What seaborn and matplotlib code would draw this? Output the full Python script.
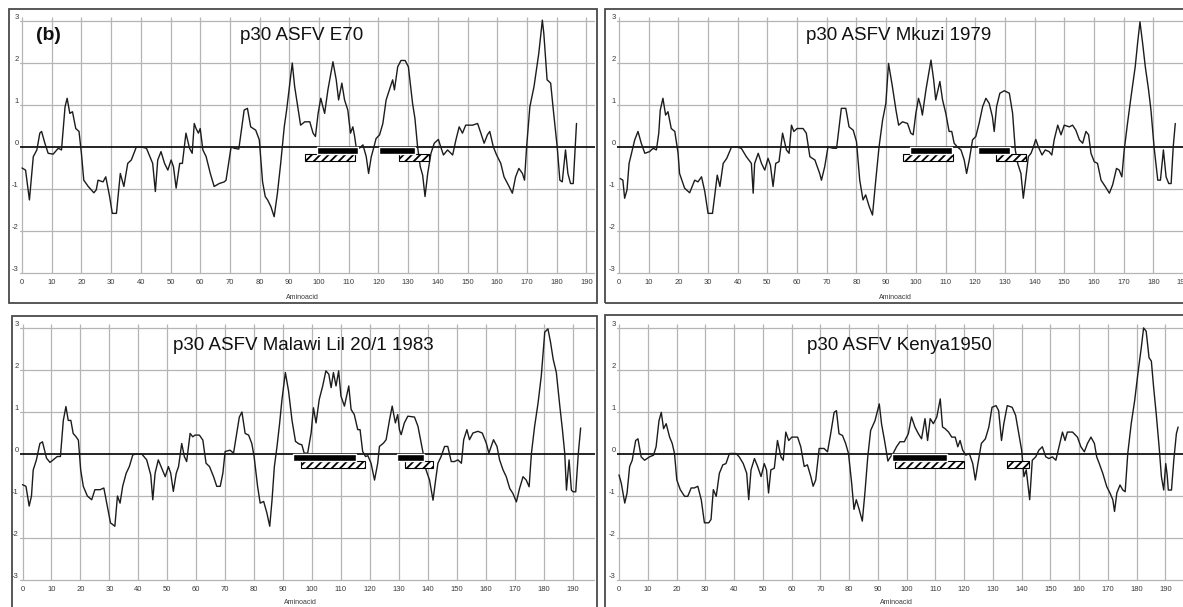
import matplotlib
matplotlib.use("Agg")
import matplotlib.pyplot as plt
import seaborn as sns
import pandas as pd
from matplotlib.patches import Rectangle

sns.set_style("white")
plt.rcParams['font.family'] = ['Liberation Sans', 'DejaVu Sans']
plt.rcParams['hatch.linewidth'] = 1.3

# ---------------- data ----------------
titles = ["p30 ASFV E70", "p30 ASFV Mkuzi 1979",
          "p30 ASFV Malawi Lil 20/1 1983", "p30 ASFV Kenya1950"]
x_ticks = list(range(0, 200, 10))
y_ticks = [-3, -2, -1, 0, 1, 2, 3]

e70_profile = [(0,-0.5),(1.2,-0.55),(2.5,-1.26),(3.8,-0.23),(5,-0.07),(6,0.33),(6.6,0.37),(7.7,0.09),(8.8,-0.15),(10.5,-0.17),(12.2,-0.03),(13.3,-0.07),(14.5,0.96),(15.2,1.16),(16.1,0.8),(17,0.84),(18.1,0.44),(19.2,0.37),(20,-0.15),(20.8,-0.79),(22.3,-0.94),(24.2,-1.09),(25,-1.02),(25.6,-0.79),(27.3,-0.83),(28.2,-0.71),(29.5,-1.18),(30.4,-1.58),(31.8,-1.58),(33.1,-0.63),(34.3,-0.94),(35.6,-0.39),(36.8,-0.31),(38.5,0),(40.2,0),(41.9,-0.03),(44,-0.39),(44.9,-1.06),(45.7,-0.31),(46.8,-0.11),(48,-0.39),(49.1,-0.55),(50.2,-0.31),(51,-0.47),(51.9,-0.98),(53.1,-0.39),(54,-0.39),(55.2,0.33),(56.4,-0.03),(57.3,-0.15),(58,0.56),(58.6,0.44),(59.4,0.33),(60,0.44),(60.9,-0.07),(62,-0.23),(63.4,-0.63),(64.7,-0.94),(66.4,-0.87),(68.1,-0.83),(68.7,-0.79),(70.4,0),(71.5,-0.03),(73,-0.05),(74.8,0.88),(75.9,0.92),(77,0.48),(78.7,0.4),(79.9,0.17),(81,-0.83),(81.9,-1.18),(82.7,-1.26),(83.8,-1.42),(84.9,-1.66),(86,-1.1),(87.1,-0.39),(88.3,0.48),(89.1,0.88),(90.2,1.52),(91,2.0),(91.8,1.44),(93,0.88),(93.8,0.52),(95.2,0.6),(96.9,0.6),(98,0.33),(98.8,0.25),(99.7,0.8),(100.6,1.16),(101.3,0.96),(101.9,0.8),(103,1.36),(104.7,2.03),(105.8,1.6),(106.6,1.12),(107.7,1.52),(108.6,1.12),(109.7,0.88),(110.6,0.33),(111.4,0.48),(112,0.25),(112.5,0),(113.6,-0.03),(114.8,0.05),(115.9,-0.23),(116.7,-0.63),(117.6,-0.23),(118.5,0.0),(119.2,0.2),(120.4,0.29),(121.5,0.56),(122.6,1.12),(123.7,1.36),(124.8,1.6),(125.4,1.36),(126.5,1.91),(127.6,2.06),(129,2.06),(130.1,1.91),(131.5,1.04),(132.3,0.68),(133.2,0),(134.1,-0.47),(134.9,-0.67),(135.7,-1.18),(136.6,-0.63),(137.7,-0.15),(138.8,0.09),(140.2,0.18),(141,0),(141.9,-0.19),(143.3,-0.07),(145,-0.19),(146.1,0.17),(147.2,0.48),(148.3,0.33),(149.4,0.52),(151.7,0.52),(153.4,0.56),(154.5,0.33),(155.6,0.09),(156.7,0.29),(157.5,0.37),(158.7,0),(159.8,-0.19),(161.2,-0.39),(162.3,-0.71),(164,-0.94),(165.1,-1.1),(166.2,-0.71),(167.3,-0.51),(168.5,-0.63),(169.2,-0.79),(169.9,0),(171,0.96),(172.4,1.44),(174,2.23),(175.2,3.02),(175.7,2.7),(176.8,1.6),(178,1.52),(178.9,0.88),(180.2,0),(181.1,-0.79),(181.9,-0.83),(183,-0.07),(183.8,-0.63),(184.7,-0.87),(185.6,-0.87),(186.7,0.56)]

mkuzi_profile = [(0.4,-0.75),(1.3,-0.79),(1.9,-1.22),(2.7,-1.02),(3.4,-0.39),(4.2,-0.15),(5.3,0.17),(6.4,0.37),(7.5,0.09),(8.7,-0.15),(10.3,-0.11),(11.5,-0.03),(12.6,-0.07),(13.4,0.33),(13.9,0.88),(14.8,1.16),(15.7,0.76),(16.5,0.84),(17.6,0.44),(18.8,0.37),(19.9,-0.15),(20.4,-0.63),(22.1,-0.98),(23.8,-1.09),(25.5,-0.79),(26.6,-0.83),(27.8,-0.71),(28.9,-1.06),(30,-1.58),(31.5,-1.58),(33.1,-0.67),(34,-0.94),(35.1,-0.39),(36.3,-0.27),(37.9,0),(39.6,0),(41.2,-0.03),(42.9,-0.23),(44.6,-0.39),(45.2,-1.1),(45.7,-0.39),(46.9,-0.15),(48,-0.39),(49.1,-0.55),(50.2,-0.27),(51,-0.43),(51.9,-0.94),(52.8,-0.39),(53.9,-0.35),(55.1,0.33),(56.4,-0.07),(57.3,-0.15),(58.1,0.52),(58.9,0.37),(60,0.44),(62,0.44),(63.1,0.33),(64.3,-0.23),(66,-0.31),(67.6,-0.63),(68.2,-0.79),(69.3,-0.47),(70.4,0),(72.1,-0.03),(73.3,-0.03),(74.9,0.92),(76.4,0.92),(77.5,0.48),(78.9,0.4),(80,0.13),(81.1,-0.79),(82.2,-1.26),(83.1,-1.14),(84.3,-1.42),(85.4,-1.62),(86.5,-0.79),(87.6,0),(88.8,0.64),(89.9,1.04),(90.8,1.99),(92.1,1.44),(93.3,0.88),(94.2,0.52),(95.5,0.6),(97.2,0.56),(98.3,0.33),(99.1,0.29),(100,0.8),(100.9,1.16),(101.7,0.96),(102.2,0.76),(103.4,1.36),(105.1,2.07),(106,1.6),(106.7,1.12),(108.1,1.56),(109,1.12),(110.1,0.8),(111.2,0.37),(112.1,0.37),(112.9,0.09),(114,0),(115.2,-0.07),(116.3,-0.31),(117.1,-0.63),(118,-0.31),(119.1,0.17),(120.2,0.25),(121.3,0.56),(122.5,0.96),(123.6,1.16),(124.7,1.04),(125.8,0.72),(126.4,0.37),(127.2,0.96),(128.3,1.28),(129.8,1.34),(131.5,1.28),(132.6,0.8),(133.5,-0.07),(134.3,-0.39),(135.4,-0.63),(136.2,-1.22),(137.1,-0.71),(137.9,-0.23),(138.8,-0.15),(139.6,0),(140.4,0.18),(141.3,0),(142.5,-0.19),(143.6,-0.07),(144.9,-0.11),(145.8,-0.19),(146.6,0.17),(147.8,0.52),(148.9,0.29),(150,0.52),(151.7,0.48),(152.8,0.52),(153.9,0.4),(155.1,0.17),(156.2,0.09),(157.3,0.37),(158.2,0.29),(159,-0.15),(160.1,-0.35),(161.2,-0.39),(162.4,-0.79),(163.8,-0.94),(165.2,-1.1),(166.3,-0.9),(167.6,-0.51),(168.5,-0.55),(169.4,-0.71),(170.2,-0.07),(171.3,0.56),(172.5,1.2),(173.9,1.91),(174.7,2.47),(175.5,2.98),(176.4,2.47),(177.3,1.91),(178.4,1.36),(179.2,0.88),(180.3,-0.03),(181.5,-0.79),(182.4,-0.79),(183.4,-0.07),(184.3,-0.71),(185.2,-0.87),(186,-0.87),(186.7,0),(187.4,0.56)]

malawi_profile = [(0,-0.73),(1.2,-0.77),(2.3,-1.24),(3.1,-1.0),(3.7,-0.38),(4.8,-0.14),(6,0.25),(6.9,0.29),(8.3,-0.1),(9.5,-0.2),(10.6,-0.14),(12,-0.06),(13.1,-0.06),(14.1,0.8),(15,1.13),(15.8,0.8),(16.7,0.8),(17.5,0.49),(18.5,0.41),(19.3,0.33),(20.1,-0.38),(21,-0.77),(22.4,-1.0),(23.9,-1.09),(25,-0.85),(26.8,-0.85),(28.1,-0.81),(29.3,-1.24),(30.4,-1.64),(31.9,-1.72),(32.8,-1.0),(33.7,-1.17),(34.6,-0.77),(35.8,-0.46),(36.9,-0.3),(38.1,-0.02),(39.4,0),(41.2,0),(42.9,-0.14),(44.3,-0.5),(45,-1.09),(45.8,-0.46),(46.9,-0.14),(48.1,-0.34),(49.3,-0.54),(50.4,-0.3),(51.2,-0.46),(52.1,-0.89),(53.1,-0.46),(53.9,-0.3),(55,0.25),(55.9,-0.06),(56.7,-0.18),(57.9,0.49),(58.8,0.41),(59.6,0.45),(61.1,0.45),(62.3,0.33),(63.4,-0.22),(64.6,-0.3),(66,-0.54),(67.1,-0.77),(68.3,-0.77),(69.2,-0.46),(70,0.06),(71.7,0.09),(72.9,0.02),(73.8,0.41),(74.9,0.88),(75.8,1.0),(76.9,0.49),(78.1,0.45),(79.2,0.25),(80,-0.06),(81.2,-0.77),(82.1,-1.17),(83.3,-1.13),(84.4,-1.4),(85.4,-1.72),(86.2,-1.09),(87,-0.3),(87.9,0.17),(88.8,0.72),(89.6,1.28),(90.8,1.94),(91.9,1.5),(93.1,0.8),(94.3,0.3),(95.5,0.24),(96.5,0.22),(97.3,0.02),(98.5,0.02),(99.7,0.5),(100.5,1.1),(101.4,0.74),(102.5,1.3),(103.7,1.62),(104.8,1.98),(105.8,1.9),(106.6,1.58),(107.4,1.94),(108.3,1.62),(109.2,1.98),(110,1.38),(111.2,1.14),(112.7,1.62),(113.5,1.06),(114.6,0.94),(115.8,0.58),(116.6,0.58),(117.5,0.06),(118.5,-0.06),(119.3,-0.04),(120.4,-0.22),(121.6,-0.62),(122.7,-0.22),(123.3,0.18),(124.7,0.26),(125.6,0.34),(126.8,0.82),(127.7,1.14),(128.8,0.74),(129.6,0.94),(130.2,0.58),(130.8,0.46),(131.9,0.74),(133.1,0.9),(135.4,0.88),(136.6,0.66),(137.7,0.26),(138.5,-0.02),(139.4,-0.38),(140.6,-0.62),(141.8,-1.1),(142.7,-0.62),(143.5,-0.22),(144.6,-0.06),(145.8,0.18),(146.9,0.18),(148.1,-0.18),(149.2,-0.18),(150.4,-0.14),(151.6,-0.22),(152.4,0.34),(153.5,0.58),(154.4,0.34),(155.6,0.5),(157.3,0.54),(158.8,0.5),(160.2,0.26),(161.1,0.02),(161.9,0.18),(162.7,0.34),(163.9,0.18),(164.8,-0.14),(166,-0.38),(167.1,-0.54),(168.3,-0.82),(169.4,-0.94),(170.6,-1.14),(171.7,-0.82),(172.9,-0.54),(174,-0.62),(175,-0.78),(175.8,0.02),(176.9,0.66),(178.1,1.22),(179.2,1.86),(180.4,2.9),(181.5,2.98),(182.4,2.66),(183.3,2.26),(184.4,1.94),(185.6,1.14),(186.5,0.58),(187.3,0.02),(187.9,-0.86),(188.8,-0.14),(189.6,-0.86),(190.2,-0.9),(191.1,-0.9),(192,0.02),(192.8,0.62)]

kenya_profile = [(0,-0.51),(0.8,-0.71),(2,-1.18),(2.8,-0.94),(3.7,-0.31),(4.6,-0.16),(5.8,0.31),(6.6,0.35),(7.7,-0.08),(8.9,-0.16),(10.6,-0.08),(12,-0.04),(12.9,0.16),(13.9,0.78),(14.7,0.98),(15.5,0.59),(16.4,0.71),(17.6,0.39),(18.5,0.24),(19.3,0),(20.1,-0.63),(21.3,-0.86),(22.8,-1.02),(23.9,-1.02),(25.1,-0.82),(26.2,-0.82),(27.4,-0.78),(28.6,-1.1),(29.7,-1.65),(31.2,-1.65),(32,-1.57),(32.8,-0.86),(33.8,-1.02),(34.9,-0.47),(36.1,-0.27),(37.2,-0.24),(38.4,0),(40.7,0),(41.8,-0.08),(43.2,-0.24),(44.4,-0.47),(45.1,-1.1),(45.9,-0.39),(47.1,-0.12),(48.2,-0.31),(49.4,-0.55),(50.5,-0.24),(51.3,-0.39),(52,-0.94),(52.8,-0.39),(54,-0.35),(55.1,0.31),(56.3,-0.08),(57.1,-0.16),(58,0.51),(59,0.31),(60.1,0.39),(62.1,0.39),(63.2,0.16),(64.4,-0.31),(65.5,-0.27),(66.7,-0.55),(67.5,-0.78),(68.4,-0.63),(69.6,0.12),(71.3,0.12),(72.5,0.04),(73.6,0.47),(74.8,0.98),(75.6,1.02),(76.5,0.47),(77.7,0.43),(78.8,0.24),(79.8,0),(80.9,-0.71),(81.7,-1.33),(82.5,-1.1),(83.5,-1.33),(84.6,-1.61),(85.5,-0.94),(86.5,-0.08),(87.5,0.55),(89,0.78),(89.9,1.02),(90.5,1.18),(91.3,0.7),(92.4,0.28),(93.5,-0.18),(94.2,-0.1),(95.3,0),(96.5,0.16),(97.7,0.28),(99.2,0.28),(100.6,0.47),(101.7,0.87),(102.9,0.63),(104.1,0.47),(105.2,0.35),(106.4,0.83),(107.3,0.31),(108.2,0.83),(109.3,0.71),(110.5,0.87),(111.7,1.3),(112.5,0.63),(113.4,0.59),(114.6,0.51),(115.7,0.39),(116.9,0.39),(117.8,0.16),(118.6,0.31),(119.5,0.08),(120.6,-0.04),(121.8,0),(123,-0.24),(123.9,-0.63),(124.8,-0.24),(126,0.24),(127.4,0.35),(128.6,0.63),(129.7,1.1),(131.1,1.14),(132,1.02),(133,0.31),(133.8,0.71),(135,1.14),(136.7,1.1),(137.9,0.91),(139,0.47),(140,0.08),(140.8,-0.55),(141.6,-0.39),(142.8,-1.1),(143.7,-0.16),(144.9,-0.08),(146,0.08),(147.2,0.16),(148.4,-0.08),(149.5,-0.12),(150.7,-0.08),(151.9,-0.16),(153,0.16),(154.2,0.51),(155.1,0.31),(155.9,0.51),(157.7,0.51),(159.4,0.39),(160.6,0.16),(161.8,0.04),(162.9,0.24),(164.1,0.39),(165.3,0.24),(166.1,-0.08),(167,-0.24),(168.2,-0.47),(169.6,-0.79),(170.7,-0.94),(171.7,-1.1),(172.3,-1.38),(173.1,-0.94),(174.2,-0.75),(175.2,-0.87),(176,-0.91),(176.9,0),(178.1,0.71),(179.3,1.26),(180.4,1.89),(181.6,2.52),(182.4,2.99),(183.3,2.91),(184.3,2.28),(185.1,2.2),(185.9,1.57),(186.8,0.94),(187.8,0.16),(188.6,-0.55),(189.4,-0.87),(190.1,-0.24),(190.6,-0.51),(191,-0.87),(192.1,-0.87),(192.9,-0.16),(193.8,0.47),(194.4,0.63)]

# epitope regions (start, end) in amino-acid positions
e70_solid = [(99.3, 113.2), (120.2, 132.3)]
e70_hatched = [(95.3, 112.2), (127.0, 137.2)]
mkuzi_solid = [(98.2, 112.2), (121.0, 131.7)]
mkuzi_hatched = [(95.7, 112.6), (127.0, 137.0)]
malawi_solid = [(93.3, 115.2), (129.5, 138.8)]
malawi_hatched = [(96.1, 118.3), (132.1, 141.7)]
kenya_solid = [(94.8, 113.9)]
kenya_hatched = [(96.0, 120.0), (135.0, 142.6)]

profiles = [e70_profile, mkuzi_profile, malawi_profile, kenya_profile]
solids = [e70_solid, mkuzi_solid, malawi_solid, kenya_solid]
hatcheds = [e70_hatched, mkuzi_hatched, malawi_hatched, kenya_hatched]

# ---------------- layout (pixel geometry) ----------------
W, H = 1183, 607
PPY = 42.0
layout = [
    dict(frame=(9, 9, 597, 303), x0=22.0, ppx=2.97, y0=147.0, L=20, R=595, T=17, B=276,
         title=(302, 35), amino=(302, 297), xmaxtick=190),
    dict(frame=(605, 9, 1190, 303), x0=619.0, ppx=2.97, y0=147.0, L=617, R=1183, T=17, B=276,
         title=(899, 35), amino=(895, 297), xmaxtick=190),
    dict(frame=(12, 316, 597, 612), x0=22.5, ppx=2.895, y0=454.0, L=20, R=595, T=324, B=583,
         title=(303, 345), amino=(300, 603), xmaxtick=190),
    dict(frame=(605, 315, 1190, 612), x0=619.0, ppx=2.876, y0=453.5, L=617, R=1183, T=324, B=583,
         title=(899, 345), amino=(896, 603), xmaxtick=190),
]

fig = plt.figure(figsize=(W / 100, H / 100), dpi=100)

for i, lay in enumerate(layout):
    fl, ft, fr, fb = lay['frame']
    fig.add_artist(Rectangle((fl / W, 1 - fb / H), (fr - fl) / W, (fb - ft) / H,
                             transform=fig.transFigure, fill=False,
                             edgecolor='#4a4a4a', linewidth=1.3))
    L, R, T, B = lay['L'], lay['R'], lay['T'], lay['B']
    ax = fig.add_axes([L / W, 1 - B / H, (R - L) / W, (B - T) / H])
    xmin = (L - lay['x0']) / lay['ppx']
    xmax = (R - lay['x0']) / lay['ppx']
    ymin = (lay['y0'] - B) / PPY
    ymax = (lay['y0'] - T) / PPY
    ax.set_xlim(xmin, xmax)
    ax.set_ylim(ymin, ymax)
    for s in ax.spines.values():
        s.set_visible(False)

    # grid
    ax.vlines([v for v in x_ticks if v <= xmax], -3, ymax, colors='#b5b5b5', linewidth=0.9, zorder=0)
    for h in y_ticks:
        if h != 0:
            ax.axhline(h, color='#b5b5b5', linewidth=0.9, zorder=0)
    ax.axhline(0, color='black', linewidth=1.2, zorder=1)

    prof = pd.DataFrame(profiles[i], columns=['pos', 'hyd'])
    sns.lineplot(data=prof, x='pos', y='hyd', ax=ax, color='#1c1c1c', linewidth=1.0,
                 estimator=None, sort=False, zorder=2)

    sol = solids[i]
    ax.barh([-0.085] * len(sol), [e - s for s, e in sol], left=[s for s, e in sol],
            height=0.17, color='black', zorder=4)
    hat = hatcheds[i]
    ax.barh([-0.255] * len(hat), [e - s for s, e in hat], left=[s for s, e in hat],
            height=0.16, color='white', edgecolor='black', hatch='////',
            linewidth=0.8, zorder=3)

    ticks_here = [v for v in x_ticks if v <= lay['xmaxtick']]
    ax.set_xticks(ticks_here)
    ax.set_xticklabels([str(v) for v in ticks_here])
    ax.set_yticks(y_ticks)
    ax.set_yticklabels([str(v) for v in y_ticks], va='bottom')
    ax.tick_params(axis='x', length=0, labelsize=5.5, labelcolor='#3a3a3a', pad=2.4)
    ax.tick_params(axis='y', length=0, labelsize=5.5, labelcolor='#3a3a3a', pad=0.8)
    ax.set_xlabel('')
    ax.set_ylabel('')

    tx, ty = lay['title']
    fig.text(tx / W, 1 - ty / H, titles[i], ha='center', va='center', fontsize=13.5, color='#111')
    axx, axy = lay['amino']
    fig.text(axx / W, 1 - axy / H, 'Aminoacid', ha='center', va='center', fontsize=5, color='#3a3a3a')

fig.text(48 / W, 1 - 36 / H, '(b)', ha='center', va='center', fontsize=14, fontweight='bold', color='#111')

fig.savefig('out.png', dpi=100)
